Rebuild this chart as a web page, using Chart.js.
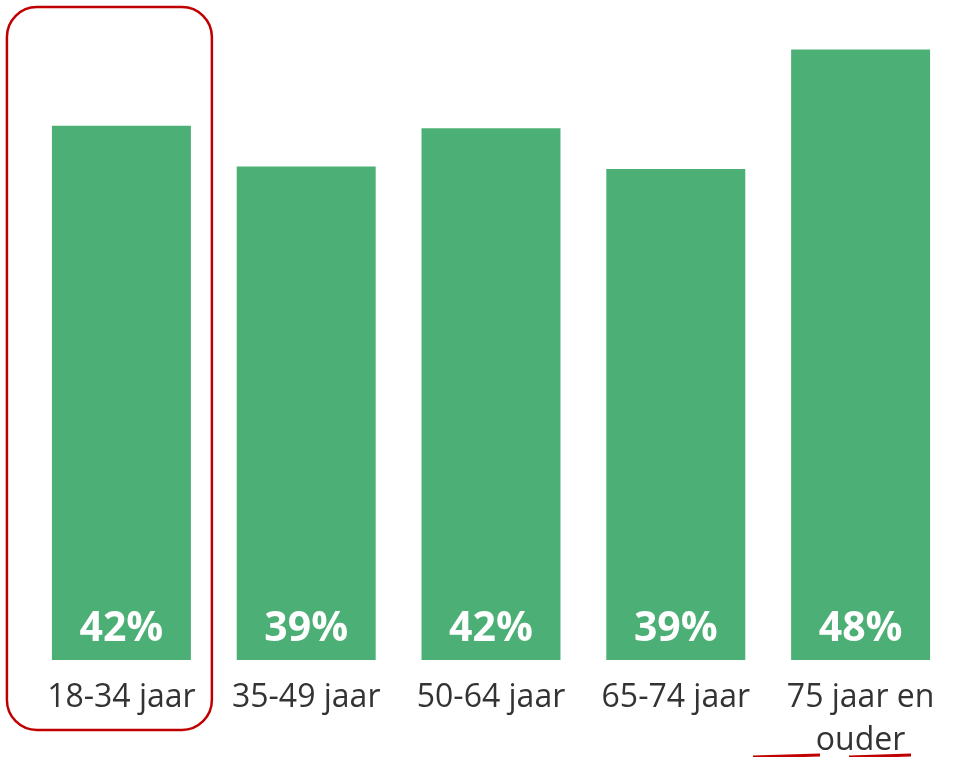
<!DOCTYPE html>
<html>
<head>
<meta charset="utf-8">
<script src="https://cdn.jsdelivr.net/npm/chart.js@4/dist/chart.umd.min.js"></script>
<style>
	html, body { margin: 0; padding: 0; background: #fff; }
	#wrap { width: 962px; height: 757px; position: relative; }
</style>
</head>
<body>
<div id="wrap"><canvas id="main-chart"></canvas></div>
<script>
// data
const categories = ['18-34 jaar', '35-49 jaar', '50-64 jaar', '65-74 jaar', ['75 jaar en', 'ouder']];
const values = [42, 38.8, 41.8, 38.6, 48];
const barColor = '#4caf76';

// white percentage text at the foot of each bar
const valueLabels = {
	id: 'valueLabels',
	afterDatasetsDraw(chart) {
		const ctx = chart.ctx;
		const meta = chart.getDatasetMeta(0);
		ctx.save();
		ctx.fillStyle = '#ffffff';
		ctx.font = 'bold 41px "Open Sans"';
		ctx.textAlign = 'center';
		ctx.textBaseline = 'middle';
		meta.data.forEach((bar, i) => {
			ctx.fillText(Math.round(values[i]) + '%', bar.x, bar.base - 31);
		});
		ctx.restore();
	}
};

// red highlight box round the first group + the red underlines
const highlight = {
	id: 'highlight',
	afterDraw(chart) {
		const ctx = chart.ctx;
		const bar = chart.getDatasetMeta(0).data[0];
		const left = bar.x - bar.width / 2 - 45;
		const right = bar.x + bar.width / 2 + 21;
		const top = 7, bottom = 730, r = 30;
		ctx.save();
		ctx.strokeStyle = '#c00000';
		ctx.lineWidth = 2.5;
		ctx.beginPath();
		ctx.roundRect(left, top, right - left, bottom - top, r);
		ctx.stroke();

		ctx.lineWidth = 3;
		ctx.beginPath();
		ctx.moveTo(753, 757); ctx.lineTo(820, 755);
		ctx.moveTo(849, 757); ctx.lineTo(911, 755);
		ctx.stroke();
		ctx.restore();
	}
};

const ctx = document.getElementById('main-chart');
new Chart(ctx, {
	type: 'bar',
	data: {
		labels: categories,
		datasets: [{
			data: values,
			backgroundColor: barColor,
			borderWidth: 0,
			categoryPercentage: 0.752,
			barPercentage: 1
		}]
	},
	options: {
		responsive: true,
		maintainAspectRatio: false,
		animation: false,
		layout: { padding: { left: 29, right: 9, top: 24, bottom: 0 } },
		plugins: {
			legend: { display: false },
			tooltip: { enabled: false }
		},
		scales: {
			x: {
				grid: { display: false, drawTicks: false },
				border: { display: false },
				afterFit(scale) { scale.height = 97; },
				ticks: {
					color: '#333333',
					font: { family: 'Open Sans', size: 32, lineHeight: 1.35 },
					padding: 16,
					maxRotation: 0,
					autoSkip: false
				}
			},
			y: {
				display: false,
				min: 0,
				max: 50
			}
		}
	},
	plugins: [valueLabels, highlight]
});
</script>
</body>
</html>
